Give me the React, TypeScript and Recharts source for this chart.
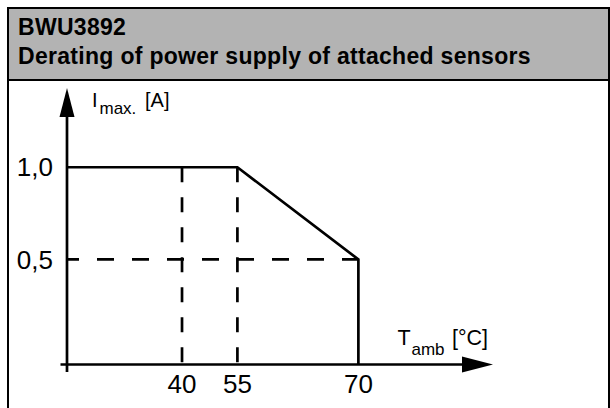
import React from 'react';
import { LineChart, Line, XAxis, YAxis, ReferenceLine } from 'recharts';

// axis ranges of the schematic (x in °C, y in A)
const X_MIN = 0;
const X_MAX = 100;
const Y_MIN = -0.07;
const Y_MAX = 1.43;

const X_TICKS = [40, 55, 70];
const Y_TICKS = [0.5, 1.0];

// derating curve
const CURVE_T = [X_MIN, 55, 70, 70];
const CURVE_I = [1.0, 1.0, 0.5, Y_MIN];

// dashed helper lines
const GUIDE_T = [40, 55];
const GUIDE_TOP = 1.0;
const GUIDE_I = 0.5;
const GUIDE_I_END = 70;

const FONT = '"Liberation Sans", Arial, sans-serif';

// the temperature axis of the drawing is not linear, so use a piecewise scale
const X_STOPS: [number, number][] = [
  [0, 0],
  [40, 0.27],
  [55, 0.4],
  [70, 0.684],
  [100, 1],
];

function piecewiseScale(stops: [number, number][]): any {
  let dom = [stops[0][0], stops[stops.length - 1][0]];
  let rng = [0, 1];
  const frac = (v: number) => {
    for (let i = 1; i < stops.length; i++) {
      const [a, fa] = stops[i - 1];
      const [b, fb] = stops[i];
      if (v <= b || i === stops.length - 1) return fa + ((v - a) * (fb - fa)) / (b - a);
    }
    return 1;
  };
  const scale: any = (v: number) => rng[0] + (rng[1] - rng[0]) * frac(v);
  scale.domain = (d?: number[]) => {
    if (d === undefined) return dom.slice();
    dom = d.slice();
    return scale;
  };
  scale.range = (r?: number[]) => {
    if (r === undefined) return rng.slice();
    rng = r.slice();
    return scale;
  };
  scale.copy = () => piecewiseScale(stops).domain(dom).range(rng);
  scale.ticks = () => stops.map((s) => s[0]);
  return scale;
}

const xScale = piecewiseScale(X_STOPS);

const curve = CURVE_T.map((t, i) => ({ t, i: CURVE_I[i] }));

// axis line with an overshoot at the start and a filled arrow head at the end
const arrowShape = (len: number, half: number, tail: number) => (p: any) => {
  const { x1, y1, x2, y2 } = p;
  const dx = x2 - x1;
  const dy = y2 - y1;
  const l = Math.hypot(dx, dy) || 1;
  const ux = dx / l;
  const uy = dy / l;
  const bx = x2 - ux * len;
  const by = y2 - uy * len;
  const pts = `${x2},${y2} ${bx - uy * half},${by + ux * half} ${bx + uy * half},${by - ux * half}`;
  return (
    <g>
      <line x1={x1 - ux * tail} y1={y1 - uy * tail} x2={bx + ux * 2} y2={by + uy * 2} stroke="#000" strokeWidth={2.7} />
      <polygon points={pts} fill="#000" />
    </g>
  );
};

const fmt = (v: number) => v.toFixed(1).replace('.', ',');

export default function App() {
  return (
    <div style={{ position: 'absolute', left: 0, top: 0, width: 610, height: 408, overflow: 'hidden', background: '#fff' }}>
      {/* frame and grey title band */}
      <div
        style={{
          position: 'absolute',
          left: 7,
          top: 7,
          width: 603,
          height: 420,
          boxSizing: 'border-box',
          border: '2px solid #000',
        }}
      />
      <div
        style={{
          position: 'absolute',
          left: 9,
          top: 9,
          width: 599,
          height: 72,
          boxSizing: 'border-box',
          background: '#b3b3b3',
          borderBottom: '2px solid #000',
        }}
      />

      <div style={{ position: 'absolute', left: 0, top: 0 }}>
        <LineChart width={610} height={408} data={curve} margin={{ top: 88, right: 117, bottom: 0, left: 0 }}>
          <XAxis
            dataKey="t"
            type="number"
            domain={[X_MIN, X_MAX]}
            scale={xScale}
            ticks={X_TICKS}
            interval={0}
            height={43.5}
            axisLine={false}
            tickLine={false}
            tickSize={0}
            tickMargin={10}
            tick={{ fontSize: 26, fill: '#000', fontFamily: FONT }}
            allowDataOverflow
          />
          <YAxis
            type="number"
            domain={[Y_MIN, Y_MAX]}
            ticks={Y_TICKS}
            interval={0}
            width={67}
            axisLine={false}
            tickLine={false}
            tickSize={0}
            tickMargin={14}
            tickFormatter={fmt}
            tick={{ fontSize: 26, fill: '#000', fontFamily: FONT }}
            allowDataOverflow
          />
          {GUIDE_T.map((t) => (
            <ReferenceLine
              key={t}
              segment={[
                { x: t, y: GUIDE_TOP },
                { x: t, y: Y_MIN },
              ]}
              stroke="#000"
              strokeWidth={2.7}
              strokeDasharray="15 15"
              ifOverflow="visible"
            />
          ))}
          <ReferenceLine
            segment={[
              { x: X_MIN, y: GUIDE_I },
              { x: GUIDE_I_END, y: GUIDE_I },
            ]}
            stroke="#000"
            strokeWidth={2.7}
            strokeDasharray="17 18"
            strokeDashoffset={5}
            ifOverflow="visible"
          />
          <ReferenceLine
            segment={[
              { x: X_MIN, y: Y_MIN },
              { x: X_MIN, y: Y_MAX },
            ]}
            shape={arrowShape(29, 7.5, 7.5)}
            ifOverflow="visible"
          />
          <ReferenceLine
            segment={[
              { x: X_MIN, y: Y_MIN },
              { x: X_MAX, y: Y_MIN },
            ]}
            shape={arrowShape(31, 8, 6.5)}
            ifOverflow="visible"
          />
          <Line
            dataKey="i"
            type="linear"
            stroke="#000"
            strokeWidth={2.7}
            dot={false}
            activeDot={false}
            isAnimationActive={false}
          />
        </LineChart>
      </div>

      {/* titles */}
      <svg width={610} height={408} style={{ position: 'absolute', left: 0, top: 0, pointerEvents: 'none' }}>
        <g fontFamily={FONT} fill="#000">
          <text x={18} y={35} fontSize={23} fontWeight="bold" letterSpacing={0.3}>
            BWU3892
          </text>
          <text x={18} y={63.5} fontSize={23} fontWeight="bold" letterSpacing={0.3}>
            Derating of power supply of attached sensors
          </text>
          <text y={107} fontSize={20}>
            <tspan x={92}>I</tspan>
            <tspan x={99.5} y={113.5} fontSize={17}>
              max.
            </tspan>
            <tspan x={145} y={107}>
              [A]
            </tspan>
          </text>
          <text y={345} fontSize={21.5}>
            <tspan x={397.5}>T</tspan>
            <tspan x={411.5} y={355} fontSize={17}>
              amb
            </tspan>
            <tspan x={452} y={345}>
              [°C]
            </tspan>
          </text>
        </g>
      </svg>
    </div>
  );
}
